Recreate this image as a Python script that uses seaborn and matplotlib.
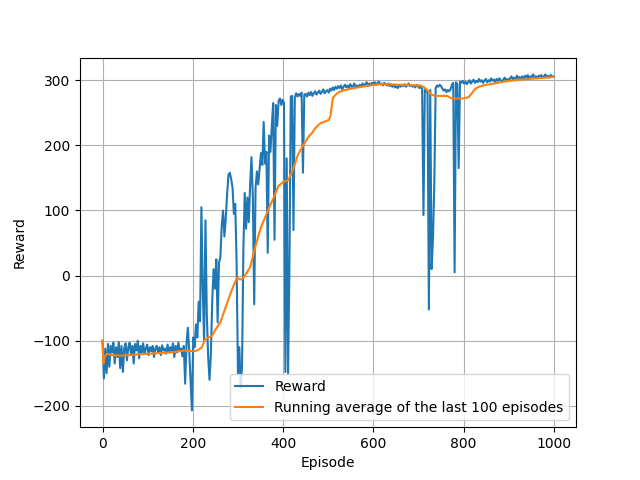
import numpy as np
import pandas as pd
import matplotlib
matplotlib.use("Agg")
import matplotlib.pyplot as plt
import seaborn as sns

# Reward per episode, sampled every 3 episodes (episodes 0, 3, ..., 999)
reward_step = 3
reward_values = [
    -100, -158, -112, -150, -105, -140, -108, -118, -103, -135,
    -110, -125, -102, -142, -108, -148, -112, -104, -130, -110,
    -103, -122, -108, -135, -105, -115, -100, -127, -108, -118,
    -104, -120, -112, -106, -122, -110, -116, -108, -125, -112,
    -108, -118, -110, -122, -107, -115, -112, -120, -106, -118,
    -110, -116, -104, -125, -108, -118, -103, -115, -112, -124,
    -108, -166, -105, -80, -115, -160, -207, -95, -110, -75,
    -95, -40, -70, 105, -20, -100, 85, -60, -125, -160,
    -120, -40, 10, -20, 25, -72, 20, 28, 76, 100,
    60, 88, 125, 155, 158, 148, 135, 95, 110, 20,
    -150, -110, -172, -140, 40, 127, 72, 120, 82, 140,
    182, 120, -44, 135, 160, 140, 165, 188, 170, 236,
    172, 190, 35, 215, 190, 230, 265, 55, 262, 230,
    268, 272, 262, 270, 265, -148, 180, -150, 10, 275,
    276, 70, 274, 280, 275, 279, 276, 281, 158, 278,
    279, 275, 281, 277, 282, 276, 280, 283, 278, 281,
    284, 279, 282, 286, 280, 283, 285, 281, 287, 284,
    289, 285, 290, 287, 291, 288, 292, 286, 290, 293,
    289, 292, 288, 294, 290, 291, 295, 289, 292, 290,
    293, 291, 295, 292, 294, 297, 292, 295, 293, 296,
    294, 297, 293, 296, 298, 294, 295, 292, 296, 294,
    292, 295, 291, 294, 290, 293, 289, 291, 288, 292,
    290, 293, 291, 294, 290, 292, 295, 291, 293, 290,
    292, 289, 293, 291, 288, 290, 287, 93, 286, 283,
    282, -52, 285, 10, 55, 140, 288, 292, 290, 293,
    291, 287, 284, 286, 282, 285, 283, 286, 293, 296,
    5, 297, 294, 165, 298, 296, 299, 295, 298, 294,
    297, 300, 295, 298, 301, 296, 299, 297, 302, 298,
    300, 296, 299, 302, 297, 300, 298, 303, 299, 301,
    298, 302, 299, 303, 300, 297, 301, 304, 299, 302,
    300, 303, 306, 301, 304, 302, 307, 303, 305, 302,
    306, 303, 307, 304, 308, 302, 306, 305, 309, 304,
    306, 303, 307, 305, 308, 304, 306, 309, 305, 307,
    304, 308, 305, 306,
]
reward_episodes = np.arange(len(reward_values)) * reward_step

# Running average of the last 100 episodes (read at key episodes)
avg_episodes = [0, 2, 5, 10, 20, 40, 60, 100, 150, 183, 200, 210, 220, 227,
                235, 242, 250, 261, 276, 287, 298, 305, 310, 320, 327, 337,
                345, 352, 360, 367, 374, 382, 389, 397, 402, 411, 422, 433,
                442, 457, 464, 472, 483, 494, 501, 505, 510, 514, 520, 527,
                538, 556, 575, 601, 620, 660, 704, 711, 719, 729, 737, 763,
                774, 800, 811, 818, 826, 834, 848, 860, 889, 926, 999]
avg_values = [-100, -135, -124, -120, -122, -123, -122, -120, -118, -115,
              -116, -115, -110, -98, -95, -93, -83, -72, -42, -21, -3, -6,
              -5, 5, 13, 40, 61, 76, 89, 101, 112, 124, 137, 142, 145, 146,
              163, 186, 197, 214, 219, 227, 234, 237, 239, 245, 272, 276,
              280, 283, 285, 288, 290, 293, 294, 293, 292, 290, 285, 278,
              276, 276, 272, 272, 274, 280, 287, 290, 293, 294, 298, 301,
              305]

reward_df = pd.DataFrame({"Episode": reward_episodes, "Reward": reward_values})
avg_df = pd.DataFrame({"Episode": avg_episodes, "Average": avg_values})

fig, ax = plt.subplots(figsize=(6.4, 4.8), dpi=100)
sns.lineplot(data=reward_df, x="Episode", y="Reward", ax=ax,
             color="#1f77b4", label="Reward", errorbar=None, linewidth=1.5)
sns.lineplot(data=avg_df, x="Episode", y="Average", ax=ax,
             color="#ff7f0e", label="Running average of the last 100 episodes",
             errorbar=None, linewidth=1.5)
ax.set_xlabel("Episode")
ax.set_ylabel("Reward")
ax.grid(True)
ax.legend(loc="lower right")
fig.savefig("out.png", dpi=100)
